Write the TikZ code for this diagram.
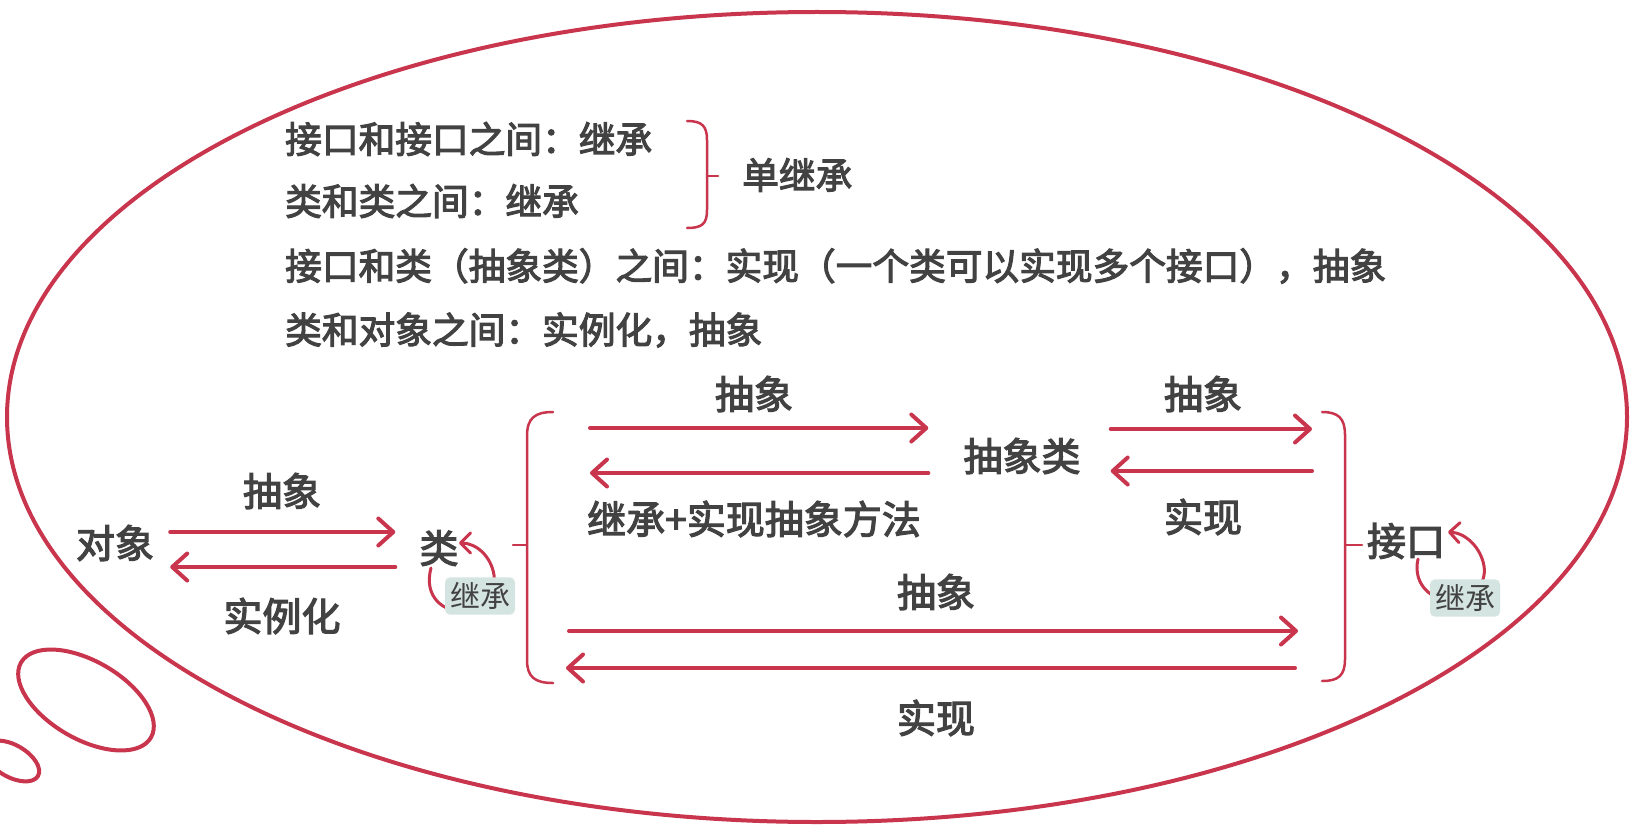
\documentclass[tikz,border=0pt]{standalone}
\usepackage{fontspec}
\setmainfont{Noto Sans CJK SC}
\newfontfamily\medfont{Noto Sans CJK SC}[RawFeature={embolden=3}]
\usetikzlibrary{arrows.meta,calc}
\definecolor{myred}{HTML}{C8354D}
\definecolor{txt}{HTML}{424242}
\definecolor{tagbg}{HTML}{D4E4E0}
\begin{document}
\begin{tikzpicture}[x=1pt,y=-1pt,
  txtline/.style={anchor=west,inner sep=0pt,text=txt,font=\medfont\fontsize{36.7}{44}\selectfont},
  lbl/.style={inner sep=0pt,text=txt,font=\medfont\fontsize{39}{46}\selectfont},
  tag/.style={fill=tagbg,rounded corners=5pt,inner xsep=5pt,inner ysep=5pt,text=txt,font=\fontsize{30}{34}\selectfont},
  arr/.style={draw=myred,line width=4pt,line cap=round,-{Straight Barb[length=15pt,width=27pt,round]}},
  selfarc/.style={draw=myred,line width=3pt,line cap=round,-{Straight Barb[length=10pt,width=20pt,round]}},
  brk/.style={draw=myred,line width=2.5pt,line cap=round},
  bubble/.style={draw=myred,line width=4pt}]
\useasboundingbox (0,0) rectangle (1637,829);
\fill[white] (0,0) rectangle (1637,829);

% thought bubble
\draw[bubble] (817,417) ellipse [x radius=810, y radius=405];
\draw[bubble,rotate around={-30:(86,700)}] (86,700) ellipse [x radius=75, y radius=39];
\draw[bubble,rotate around={-30:(12,761)}] (12,761) ellipse [x radius=30, y radius=16];

% text lines
\node[txtline] (l1) at (285,139) {接口和接口之间：继承};
\node[txtline] (l2) at (285,201) {类和类之间：继承};
\node[txtline] (l3) at (285,266) {接口和类（抽象类）之间：实现（一个类可以实现多个接口），抽象};
\node[txtline] (l4) at (285,330) {类和对象之间：实例化，抽象};
\node[txtline] (dan) at (742,175) {单继承};
\draw[brk] (687,121) .. controls (702,121) and (707,126) .. (707,140) -- (707,210)
  .. controls (707,224) and (702,228) .. (687,228);
\draw[brk] (707,176) -- (718,176);

% main nodes
\node[lbl] (obj) at (115,543) {对象};
\node[lbl] (cls) at (439,548) {类};
\node[lbl] (abs) at (1022,456) {抽象类};
\node[lbl] (itf) at (1406,541) {接口};

% object <-> class
\draw[arr] ([xshift=16pt,yshift=11pt]obj.east) -- ([xshift=-24pt,yshift=16pt]cls.west);
\draw[arr] ([xshift=-24pt,yshift=-19pt]cls.west) -- ([xshift=16pt,yshift=-24pt]obj.east);
\node[lbl] (la1) at (282,491) {抽象};
\node[lbl] (la2) at (282,616) {实例化};

% class self loop
\draw[selfarc] (431,568) .. controls (423,598) and (445,612) .. (462,611)
  .. controls (480,611) and (497,595) .. (494,575)
  .. controls (491,556) and (476,543) .. (459,543);
\node[tag] (t1) at (480,596) {继承};

% interface self loop
\draw[selfarc] (1418,559) .. controls (1412,586) and (1434,601) .. (1452,601)
  .. controls (1471,601) and (1487,585) .. (1484,566)
  .. controls (1481,548) and (1466,533) .. (1448,532);
\node[tag] (t2) at (1465,598) {继承};

% brackets
\coordinate (LB) at (527,545);
\coordinate (RB) at (1345,545);
\draw[brk] (553,412) .. controls (535,412) and (527,418) .. (527,436) -- (527,660)
  .. controls (527,677) and (535,683) .. (553,683);
\draw[brk] (LB) -- ++(-14,0);
\draw[brk] (1322,412) .. controls (1338,412) and (1345,418) .. (1345,435) -- (1345,659)
  .. controls (1345,676) and (1338,681) .. (1322,681);
\draw[brk] (RB) -- ++(17,0);

% inner arrows
\coordinate (p1) at (590,428);
\coordinate (p2) at (590,473);
\draw[arr] (p1) -- ([xshift=-35pt,yshift=28pt]abs.west);
\draw[arr] ([xshift=-35pt,yshift=-17pt]abs.west) -- (p2);
\node[lbl] (la3) at (754,394) {抽象};
\node[lbl] (la4) at (754,519) {继承+实现抽象方法};

\coordinate (p3) at (1312,429);
\coordinate (p4) at (1312,471);
\draw[arr] ([xshift=30pt,yshift=27pt]abs.east) -- (p3);
\draw[arr] (p4) -- ([xshift=30pt,yshift=-15pt]abs.east);
\node[lbl] (la5) at (1203,394) {抽象};
\node[lbl] (la6) at (1203,517) {实现};

\coordinate (p5) at (569,631);
\coordinate (p6) at (1298,631);
\coordinate (p7) at (1295,668);
\coordinate (p8) at (566,668);
\draw[arr] (p5) -- (p6);
\draw[arr] (p7) -- (p8);
\node[lbl] (la7) at (936,592) {抽象};
\node[lbl] (la8) at (936,718) {实现};
\end{tikzpicture}
\end{document}
